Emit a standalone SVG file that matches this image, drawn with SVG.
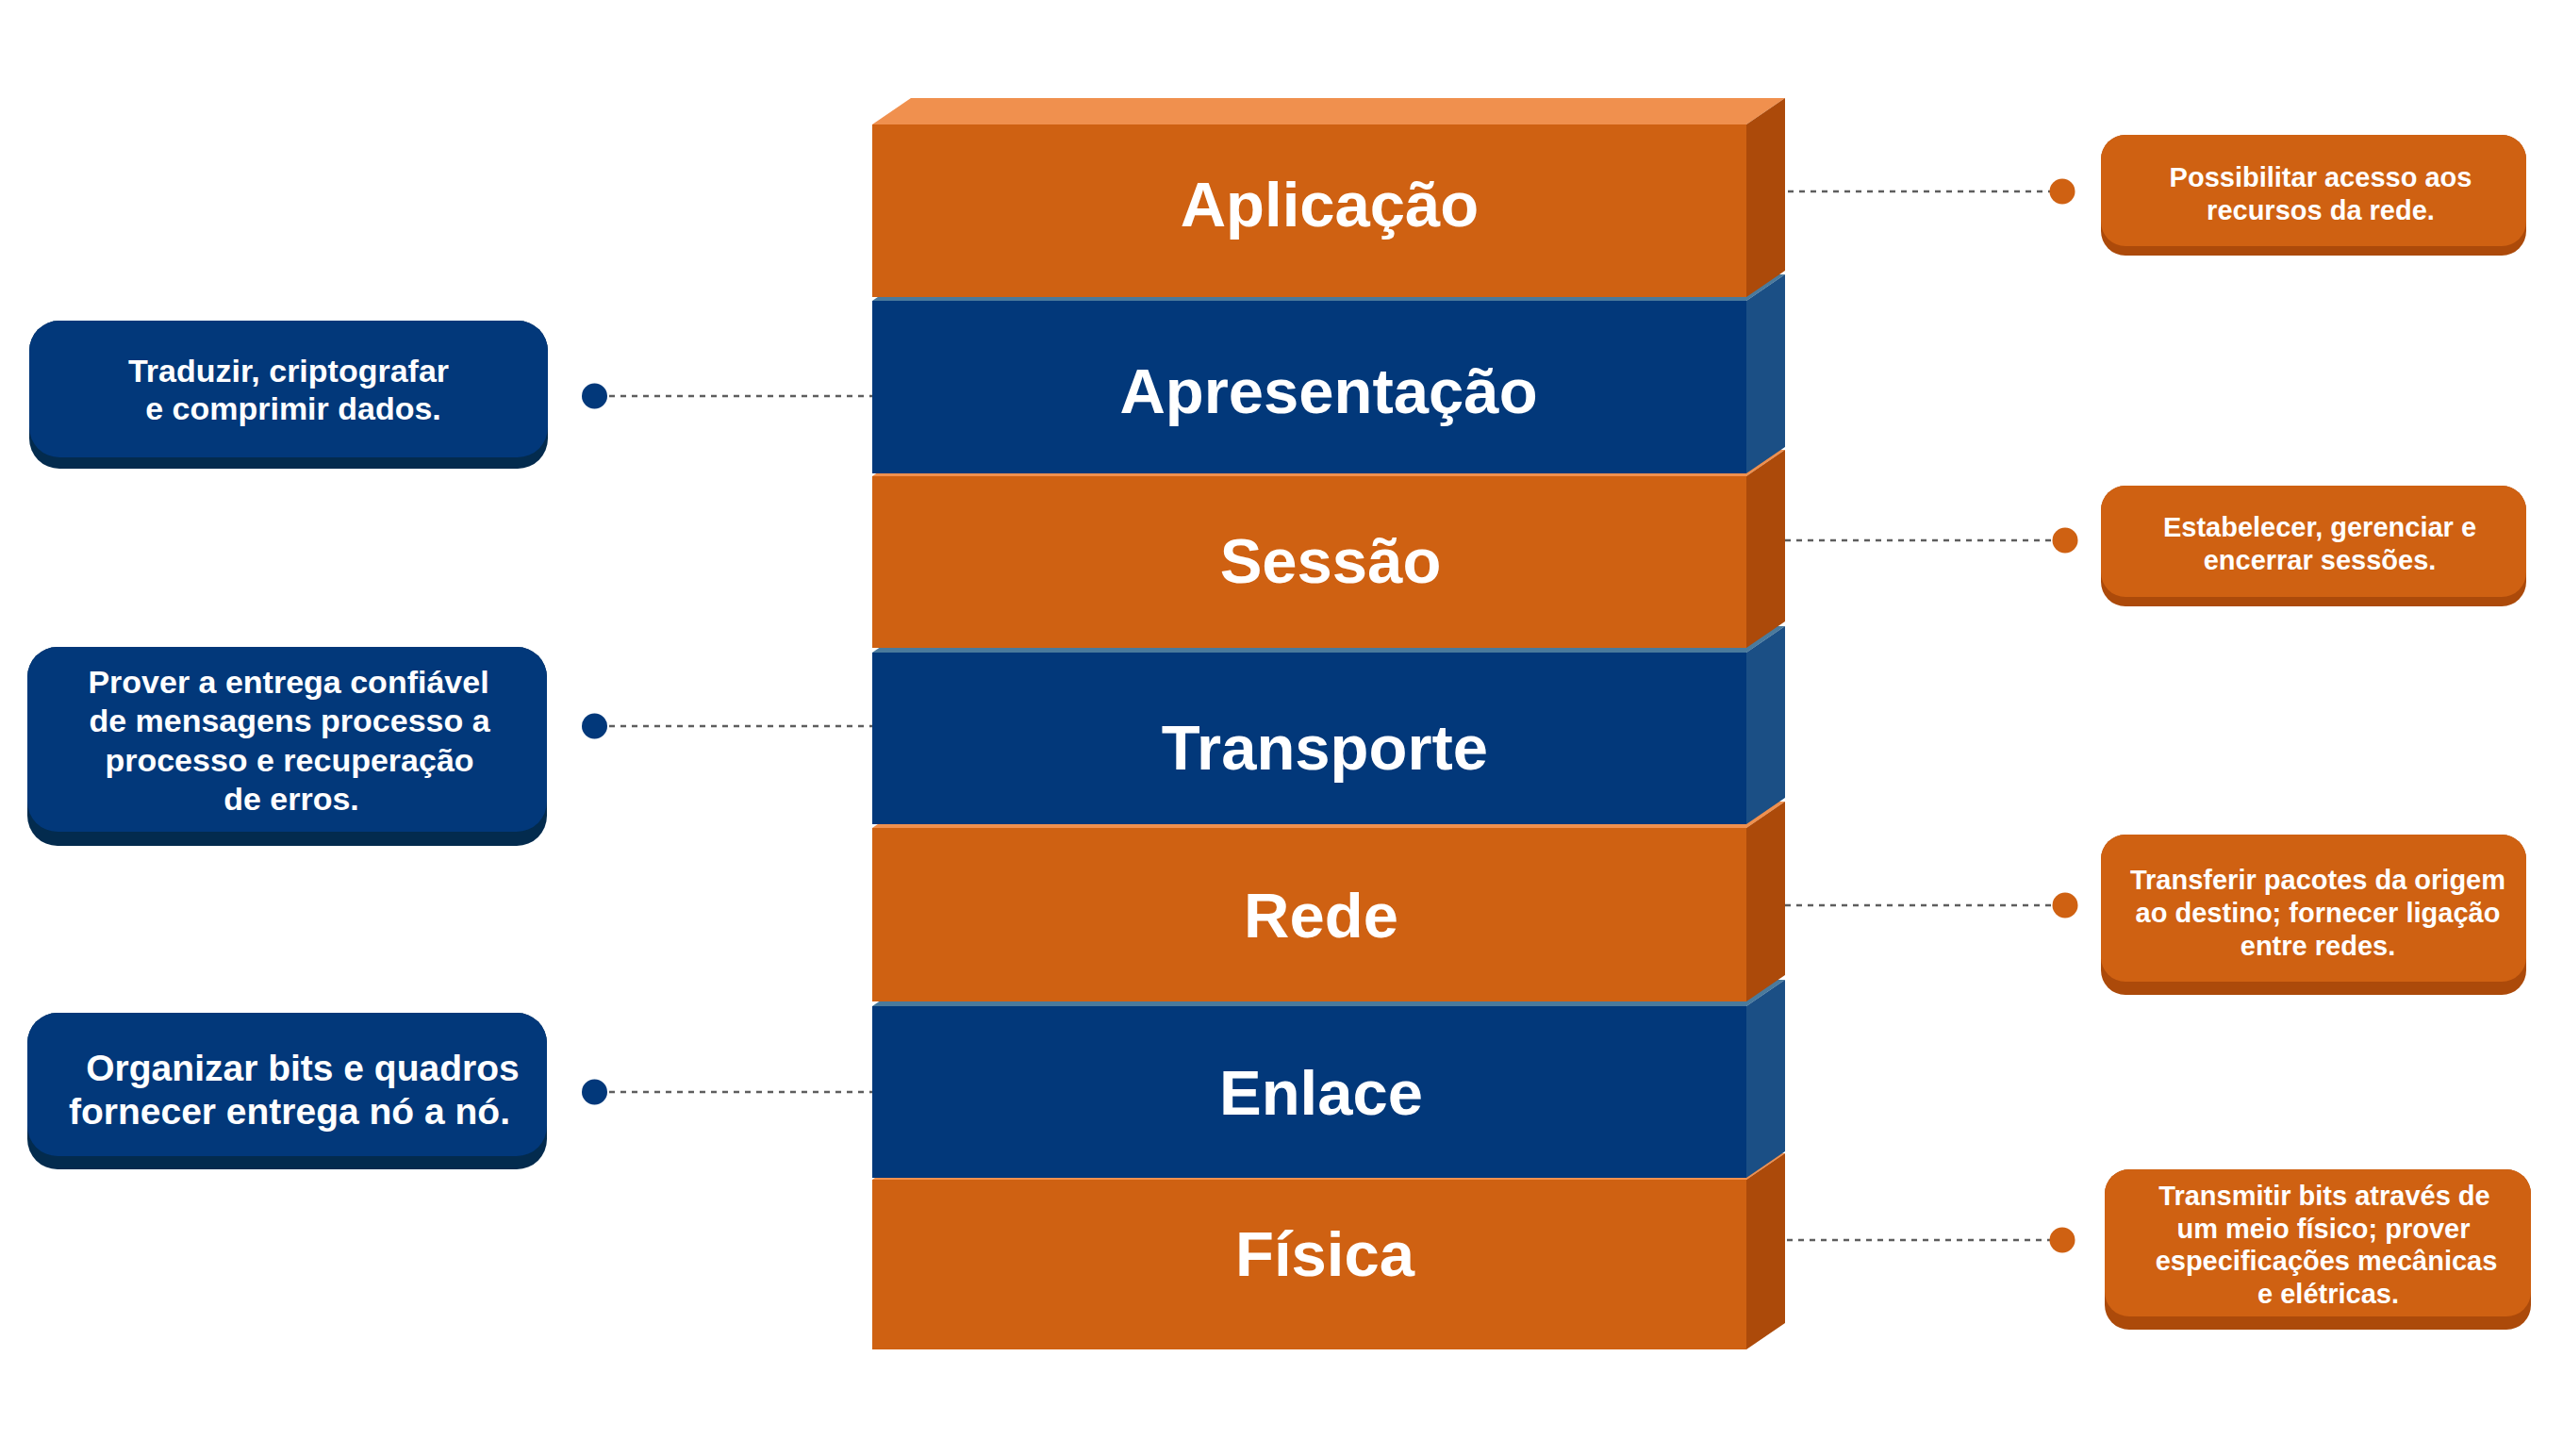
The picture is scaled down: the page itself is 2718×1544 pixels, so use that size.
<svg xmlns="http://www.w3.org/2000/svg" width="2718" height="1544" viewBox="0 0 2718 1544">
<style>
.of{fill:#CF6112}.os{fill:#AC4A0A}.ot{fill:#F0904E}
.bf{fill:#02387A}.bs{fill:#1B4F85}.bt{fill:#4A7A9C}
.lt{font-family:"Liberation Sans",Arial,sans-serif;font-weight:bold;font-size:67px;fill:#fff;text-anchor:middle}
.ltx{font-family:"Liberation Sans",Arial,sans-serif;font-weight:bold;font-size:34px;fill:#fff;text-anchor:middle}
.rtx{font-family:"Liberation Sans",Arial,sans-serif;font-weight:bold;font-size:29px;fill:#fff;text-anchor:middle}
.bdark{fill:#032B4E}.odark{fill:#AC4A0A}
.cn{stroke:#5E5E5E;stroke-width:2.5;stroke-dasharray:6 6;fill:none}
.dotb{fill:#02387A}.doto{fill:#CF6112}
</style>
<rect width="2718" height="1544" fill="#fff"/>

<g id="layer-fisica">
<polygon class="ot" points="925,1251 966,1223 1893,1223 1852,1251"/>
<rect class="of" x="925" y="1251" width="927" height="180"/>
<polygon class="os" points="1852,1251 1893,1223 1893,1403 1852,1431"/>
<text class="lt" x="1405" y="1353">Física</text>
</g>
<g id="layer-enlace">
<polygon class="bt" points="925,1067 966,1039 1893,1039 1852,1067"/>
<rect class="bf" x="925" y="1067" width="927" height="182"/>
<polygon class="bs" points="1852,1067 1893,1039 1893,1221 1852,1249"/>
<text class="lt" x="1401" y="1182">Enlace</text>
</g>
<g id="layer-rede">
<polygon class="ot" points="925,878 966,850 1893,850 1852,878"/>
<rect class="of" x="925" y="878" width="927" height="184"/>
<polygon class="os" points="1852,878 1893,850 1893,1034 1852,1062"/>
<text class="lt" x="1401" y="994">Rede</text>
</g>
<g id="layer-transporte">
<polygon class="bt" points="925,692 966,664 1893,664 1852,692"/>
<rect class="bf" x="925" y="692" width="927" height="182"/>
<polygon class="bs" points="1852,692 1893,664 1893,846 1852,874"/>
<text class="lt" x="1405" y="816">Transporte</text>
</g>
<g id="layer-sessao">
<polygon class="ot" points="925,505 966,477 1893,477 1852,505"/>
<rect class="of" x="925" y="505" width="927" height="182"/>
<polygon class="os" points="1852,505 1893,477 1893,659 1852,687"/>
<text class="lt" x="1411" y="618">Sessão</text>
</g>
<g id="layer-apresentacao">
<polygon class="bt" points="925,319 966,291 1893,291 1852,319"/>
<rect class="bf" x="925" y="319" width="927" height="183"/>
<polygon class="bs" points="1852,319 1893,291 1893,474 1852,502"/>
<text class="lt" x="1409" y="438">Apresentação</text>
</g>
<g id="layer-aplicacao">
<polygon class="ot" points="925,132 966,104 1893,104 1852,132"/>
<rect class="of" x="925" y="132" width="927" height="183"/>
<polygon class="os" points="1852,132 1893,104 1893,287 1852,315"/>
<text class="lt" x="1410" y="240">Aplicação</text>
</g>

<g id="connectors">
<line class="cn" x1="646" y1="420" x2="925" y2="420"/>
<line class="cn" x1="646" y1="770" x2="925" y2="770"/>
<line class="cn" x1="646" y1="1158" x2="925" y2="1158"/>
<line class="cn" x1="1896" y1="203" x2="2174" y2="203"/>
<line class="cn" x1="1893" y1="573" x2="2176" y2="573"/>
<line class="cn" x1="1893" y1="960" x2="2176" y2="960"/>
<line class="cn" x1="1895" y1="1315" x2="2174" y2="1315"/>
<circle class="dotb" cx="630.5" cy="420" r="13.5"/>
<circle class="dotb" cx="630.5" cy="770" r="13.5"/>
<circle class="dotb" cx="630.5" cy="1158" r="13.5"/>
<circle class="doto" cx="2187" cy="203" r="13.5"/>
<circle class="doto" cx="2190" cy="573" r="13.5"/>
<circle class="doto" cx="2190" cy="960" r="13.5"/>
<circle class="doto" cx="2187" cy="1315" r="13.5"/>
</g>

<g id="box-apresentacao">
<rect class="bdark" x="31" y="340" width="550" height="157" rx="32"/>
<rect class="bf" x="31" y="340" width="550" height="145" rx="32"/>
<text class="ltx" x="306" y="405">Traduzir, criptografar</text>
<text class="ltx" x="311" y="445">e comprimir dados.</text>
</g>
<g id="box-transporte">
<rect class="bdark" x="29" y="686" width="551" height="211" rx="32"/>
<rect class="bf" x="29" y="686" width="551" height="196" rx="32"/>
<text class="ltx" x="306" y="735">Prover a entrega confiável</text>
<text class="ltx" x="307" y="776">de mensagens processo a</text>
<text class="ltx" x="307" y="818">processo e recuperação</text>
<text class="ltx" x="309" y="859">de erros.</text>
</g>
<g id="box-enlace">
<rect class="bdark" x="29" y="1074" width="551" height="166" rx="32"/>
<rect class="bf" x="29" y="1074" width="551" height="152" rx="32"/>
<text class="ltx" x="321" y="1146" style="font-size:39px">Organizar bits e quadros</text>
<text class="ltx" x="307" y="1192" style="font-size:39px">fornecer entrega nó a nó.</text>
</g>

<g id="box-aplicacao">
<rect class="odark" x="2228" y="143" width="451" height="128" rx="26"/>
<rect class="of" x="2228" y="143" width="451" height="118" rx="26"/>
<text class="rtx" x="2461" y="198">Possibilitar acesso aos</text>
<text class="rtx" x="2461" y="233">recursos da rede.</text>
</g>
<g id="box-sessao">
<rect class="odark" x="2228" y="515" width="451" height="128" rx="26"/>
<rect class="of" x="2228" y="515" width="451" height="118" rx="26"/>
<text class="rtx" x="2460" y="569">Estabelecer, gerenciar e</text>
<text class="rtx" x="2460" y="604">encerrar sessões.</text>
</g>
<g id="box-rede">
<rect class="odark" x="2228" y="885" width="451" height="170" rx="26"/>
<rect class="of" x="2228" y="885" width="451" height="156" rx="26"/>
<text class="rtx" x="2458" y="943">Transferir pacotes da origem</text>
<text class="rtx" x="2458" y="978">ao destino; fornecer ligação</text>
<text class="rtx" x="2458" y="1013">entre redes.</text>
</g>
<g id="box-fisica">
<rect class="odark" x="2232" y="1240" width="452" height="170" rx="26"/>
<rect class="of" x="2232" y="1240" width="452" height="156" rx="26"/>
<text class="rtx" x="2465" y="1278">Transmitir bits através de</text>
<text class="rtx" x="2464" y="1313">um meio físico; prover</text>
<text class="rtx" x="2467" y="1347">especificações mecânicas</text>
<text class="rtx" x="2469" y="1382">e elétricas.</text>
</g>
</svg>
